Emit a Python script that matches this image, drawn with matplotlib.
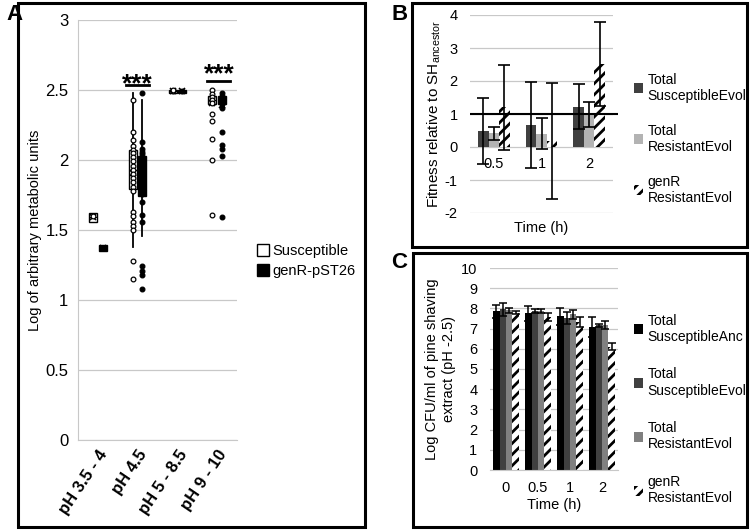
import numpy as np
import matplotlib
matplotlib.use("Agg")
import matplotlib.pyplot as plt
from matplotlib.patches import Rectangle
from matplotlib.lines import Line2D

plt.rcParams['font.family'] = ['Liberation Sans', 'DejaVu Sans']
plt.rcParams['hatch.linewidth'] = 2.0
plt.rcParams['axes.unicode_minus'] = False

# ---- panel A: box plots of metabolic units ----
cats_a = ["pH 3.5 - 4", "pH 4.5", "pH 5 - 8.5", "pH 9 - 10"]

sus_q1 = [1.56, 1.79, 2.48, 2.40]
sus_med = [1.59, 1.93, 2.49, 2.43]
sus_q3 = [1.62, 2.07, 2.50, 2.46]
sus_lo = [1.56, 1.38, 2.48, 2.40]
sus_hi = [1.62, 2.48, 2.50, 2.50]
sus_mean = [1.59, 1.91, 2.49, 2.41]

res_q1 = [1.35, 1.74, 2.48, 2.40]
res_med = [1.37, 1.88, 2.49, 2.43]
res_q3 = [1.39, 2.03, 2.50, 2.46]
res_lo = [1.35, 1.46, 2.48, 2.37]
res_hi = [1.39, 2.43, 2.50, 2.48]
res_mean = [1.37, 1.88, 2.49, 2.39]

sus_pts = [
    [1.60],
    [2.43, 2.20, 2.14, 2.10, 2.07, 2.05, 2.02, 1.99, 1.96, 1.93, 1.90, 1.87,
     1.84, 1.81, 1.78, 1.63, 1.60, 1.56, 1.53, 1.50, 1.28, 1.15],
    [2.49, 2.50],
    [2.50, 2.47, 2.45, 2.43, 2.41, 2.33, 2.28, 2.15, 2.00, 1.61],
]
res_pts = [
    [1.37],
    [2.48, 2.13, 2.08, 2.06, 2.04, 1.98, 1.90, 1.82, 1.76, 1.70, 1.61, 1.56,
     1.24, 1.21, 1.18, 1.08],
    [2.49],
    [2.48, 2.46, 2.44, 2.42, 2.40, 2.37, 2.20, 2.11, 2.08, 2.03, 1.59],
]

# ---- panel B: fitness relative to ancestor ----
times_b = ["0.5", "1", "2"]
b_sus_evol = [0.47, 0.67, 1.22]
b_sus_evol_err = [1.00, 1.30, 0.68]
b_res_evol = [0.42, 0.40, 0.98]
b_res_evol_err = [0.20, 0.47, 0.38]
b_genr = [1.20, 0.18, 2.52]
b_genr_err = [1.30, 1.77, 1.28]

# ---- panel C: log CFU/ml in pine shaving extract ----
times_c = ["0", "0.5", "1", "2"]
c_sus_anc = [7.85, 7.76, 7.60, 7.09]
c_sus_anc_err = [0.33, 0.36, 0.40, 0.50]
c_sus_evol = [7.95, 7.88, 7.52, 7.17]
c_sus_evol_err = [0.33, 0.10, 0.30, 0.08]
c_res_evol = [7.90, 7.88, 7.70, 7.20]
c_res_evol_err = [0.12, 0.10, 0.22, 0.20]
c_genr = [7.79, 7.59, 7.34, 6.10]
c_genr_err = [0.08, 0.20, 0.25, 0.18]

W, H = 750, 530
GRID = '#c8c8c8'


def rect(x0, y0, x1, y1):
    # pixel box (top-left origin) -> figure fraction
    return [x0 / W, 1 - y1 / H, (x1 - x0) / W, (y1 - y0) / H]


fig = plt.figure(figsize=(7.5, 5.3), dpi=100)

# panel frames
for x0, y0, x1, y1 in [(18, 3, 365, 527), (412, 3, 747, 247), (413, 253, 747, 527)]:
    l, b, w, h = rect(x0, y0, x1, y1)
    fig.patches.append(Rectangle((l, b), w, h, transform=fig.transFigure,
                                 fill=False, ec='black', lw=2.2))
fig.text(14 / W, 1 - 14 / H, "A", fontsize=16, fontweight='bold', ha='center', va='center')
fig.text(400 / W, 1 - 14 / H, "B", fontsize=16, fontweight='bold', ha='center', va='center')
fig.text(399 / W, 1 - 263 / H, "C", fontsize=16, fontweight='bold', ha='center', va='center')

# ---------------- A ----------------
ax = fig.add_axes(rect(78, 20, 237, 440))
x = np.arange(len(cats_a))
off = 0.12


def make_stats(q1, med, q3, lo, hi, mean):
    return [dict(q1=a, med=m, q3=c, whislo=l, whishi=h, mean=mn, fliers=[])
            for a, m, c, l, h, mn in zip(q1, med, q3, lo, hi, mean)]


ax.bxp(make_stats(sus_q1, sus_med, sus_q3, sus_lo, sus_hi, sus_mean), positions=x - off,
       widths=0.2, patch_artist=True, showmeans=True, showcaps=False, showfliers=False,
       boxprops=dict(facecolor='white', edgecolor='black', lw=1),
       whiskerprops=dict(color='black', lw=1.3), medianprops=dict(color='black', lw=0.8),
       meanprops=dict(marker='x', markeredgecolor='black', markersize=5, mew=1.2))
ax.bxp(make_stats(res_q1, res_med, res_q3, res_lo, res_hi, res_mean), positions=x + off,
       widths=0.2, patch_artist=True, showmeans=True, showcaps=False, showfliers=False,
       boxprops=dict(facecolor='black', edgecolor='black', lw=1),
       whiskerprops=dict(color='black', lw=1.3), medianprops=dict(color='black', lw=0.8),
       meanprops=dict(marker='x', markeredgecolor='black', markersize=5, mew=1.2))
for i in range(len(cats_a)):
    ax.plot(np.full(len(sus_pts[i]), x[i] - off), sus_pts[i], 'o', mfc='white',
            mec='black', ms=3.4, mew=0.9, zorder=4)
    ax.plot(np.full(len(res_pts[i]), x[i] + off), res_pts[i], 'o', mfc='black',
            mec='black', ms=3.4, mew=0.9, zorder=4)

# significance marks
ax.plot([0.70, 1.28], [2.535, 2.535], color='black', lw=2)
ax.text(1.0, 2.49, "***", ha='center', va='baseline', fontsize=19, fontweight='bold')
ax.plot([2.74, 3.32], [2.565, 2.565], color='black', lw=2)
ax.text(3.05, 2.56, "***", ha='center', va='baseline', fontsize=19, fontweight='bold')

ax.set_xlim(-0.5, 3.5)
ax.set_ylim(0, 3)
ax.set_yticks(np.arange(0, 3.01, 0.5))
ax.set_yticklabels(["0", "0.5", "1", "1.5", "2", "2.5", "3"])
ax.set_xticks(x)
ax.set_xticklabels(cats_a, rotation=56, ha='right', rotation_mode='anchor',
                   fontweight='bold', fontsize=9.5)
ax.tick_params(length=0, labelsize=12, pad=7)
ax.tick_params(axis='x', pad=5)
ax.yaxis.grid(True, color=GRID, lw=0.9)
ax.set_axisbelow(True)
for s in ['top', 'right']:
    ax.spines[s].set_visible(False)
for s in ['left', 'bottom']:
    ax.spines[s].set_color(GRID)
ax.set_ylabel("Log of arbitrary metabolic units", fontsize=10.5, labelpad=2)

handles_a = [Line2D([], [], marker='s', ls='', mfc='white', mec='black', ms=8, mew=1),
             Line2D([], [], marker='s', ls='', mfc='black', mec='black', ms=8, mew=1)]
fig.legend(handles_a, ["Susceptible", "genR-pST26"], loc='center left',
           bbox_to_anchor=(257 / W, 1 - 261 / H), frameon=False, fontsize=10.5,
           handlelength=0.8, handletextpad=0.25, labelspacing=0.45,
           borderaxespad=0, borderpad=0)

# ---------------- B ----------------
axb = fig.add_axes(rect(470, 15, 613, 213))
xb = np.arange(len(times_b))
wb = 0.22
ekw = dict(ecolor='black', elinewidth=1.2, capthick=1.2)
hb1 = axb.bar(xb - wb, b_sus_evol, wb, color='#404040', yerr=b_sus_evol_err,
              capsize=4, error_kw=ekw, label="Total\nSusceptibleEvol")
hb2 = axb.bar(xb, b_res_evol, wb, color='#b3b3b3', yerr=b_res_evol_err,
              capsize=4, error_kw=ekw, label="Total\nResistantEvol")
hb3 = axb.bar(xb + wb, b_genr, wb, color='white', edgecolor='black', lw=0, hatch='///',
              yerr=b_genr_err, capsize=4, error_kw=ekw, label="genR\nResistantEvol")
axb.hlines(1, -0.5, 2.6, color='black', lw=1.5, clip_on=False, zorder=5)
axb.set_xlim(-0.5, 2.5)
axb.set_ylim(-2, 4)
axb.set_yticks(range(-2, 5))
axb.set_xticks([])
for i, t in enumerate(times_b):
    axb.text(xb[i], -0.5, t, ha='center', va='center', fontsize=10.5)
axb.tick_params(length=0, labelsize=10.5, pad=9)
axb.yaxis.grid(True, color=GRID, lw=0.9)
axb.set_axisbelow(True)
for s in axb.spines.values():
    s.set_visible(False)
axb.set_xlabel("Time (h)", fontsize=10.5, labelpad=6)
axb.set_ylabel("Fitness relative to $\\mathregular{SH_{ancestor}}$", fontsize=11, labelpad=1)
fig.legend(handles=[hb1, hb2, hb3], loc='upper left', bbox_to_anchor=(628 / W, 1 - 67 / H),
           frameon=False, fontsize=10, handlelength=0.7, handleheight=0.7,
           handletextpad=0.3, labelspacing=1.5, borderaxespad=0)

# ---------------- C ----------------
axc = fig.add_axes(rect(490, 268, 618, 470))
xc = np.arange(len(times_c))
wc = 0.2
ekc = dict(ecolor='black', elinewidth=1.1, capthick=1.1)
hc1 = axc.bar(xc - 1.5 * wc, c_sus_anc, wc, color='black', yerr=c_sus_anc_err,
              capsize=3, error_kw=ekc, label="Total\nSusceptibleAnc")
hc2 = axc.bar(xc - 0.5 * wc, c_sus_evol, wc, color='#404040', yerr=c_sus_evol_err,
              capsize=3, error_kw=ekc, label="Total\nSusceptibleEvol")
hc3 = axc.bar(xc + 0.5 * wc, c_res_evol, wc, color='#808080', yerr=c_res_evol_err,
              capsize=3, error_kw=ekc, label="Total\nResistantEvol")
hc4 = axc.bar(xc + 1.5 * wc, c_genr, wc, color='white', edgecolor='black', lw=0, hatch='///',
              yerr=c_genr_err, capsize=3, error_kw=ekc, label="genR\nResistantEvol")
axc.set_xlim(-0.5, 3.5)
axc.set_ylim(0, 10)
axc.set_yticks(range(0, 11))
axc.set_xticks(xc)
axc.set_xticklabels(times_c)
axc.tick_params(length=0, labelsize=10.5, pad=9)
axc.tick_params(axis='x', pad=8)
axc.yaxis.grid(True, color=GRID, lw=0.9)
axc.set_axisbelow(True)
for s in ['top', 'right', 'left']:
    axc.spines[s].set_visible(False)
axc.spines['bottom'].set_color(GRID)
axc.set_xlabel("Time (h)", fontsize=10.5, labelpad=2)
axc.set_ylabel("Log CFU/ml of pine shaving\nextract (pH -2.5)", fontsize=10.5, labelpad=4)
fig.legend(handles=[hc1, hc2, hc3, hc4], loc='upper left', bbox_to_anchor=(628 / W, 1 - 308 / H),
           frameon=False, fontsize=10, handlelength=0.7, handleheight=0.7,
           handletextpad=0.3, labelspacing=1.7, borderaxespad=0)

fig.savefig("out.png", dpi=100)
